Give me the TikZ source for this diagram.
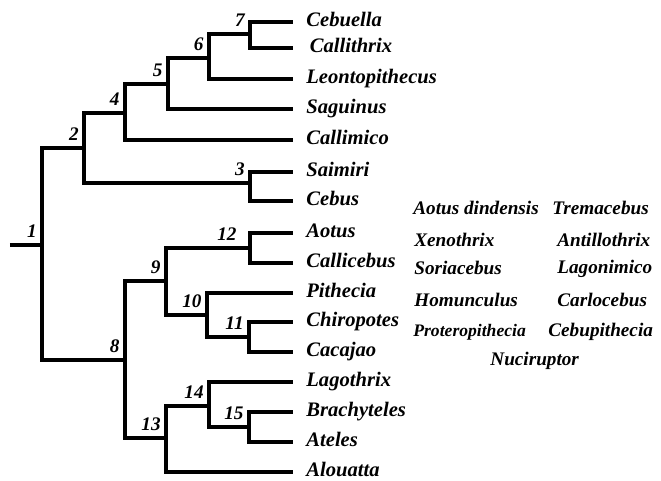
\documentclass[tikz,border=0pt]{standalone}
\usepackage{fontspec}
\setmainfont{Liberation Serif}
\tikzset{
  branch/.style={line width=1.6pt},
  taxon/.style={anchor=west, inner xsep=6.5pt, inner ysep=0pt, text height=7pt, text depth=2pt, font=\fontsize{10.3}{12}\selectfont\bfseries\itshape},
  fossil/.style={anchor=base west, inner sep=0pt, font=\fontsize{9.6}{11}\selectfont\bfseries\itshape},
  clade/.style={anchor=south east, inner sep=0pt, xshift=-2.5pt, yshift=3.5pt, font=\fontsize{9.6}{11}\selectfont\bfseries\itshape}
}

\begin{document}
\begin{tikzpicture}[x=0.5pt,y=-0.5pt]
	\useasboundingbox (0,0) rectangle (661,481);
	\coordinate (n0) at (10,245);
	\coordinate (n1) at (42,245);
	\coordinate (n2) at (84,148);
	\coordinate (n3) at (250,183);
	\coordinate (n4) at (125,113);
	\coordinate (n5) at (168,84);
	\coordinate (n6) at (209,58);
	\coordinate (n7) at (250,34);
	\coordinate (n8) at (125,360);
	\coordinate (n9) at (166,281);
	\coordinate (n10) at (207,315);
	\coordinate (n11) at (249,337);
	\coordinate (n12) at (250,248);
	\coordinate (n13) at (166,438);
	\coordinate (n14) at (209,406);
	\coordinate (n15) at (249,427);

	\node[taxon] (cebuella) at (293,22) {Cebuella};
	\node[taxon] (callithrix) at (293,48) {\,Callithrix};
	\node[taxon] (leonto) at (293,79) {Leontopithecus};
	\node[taxon] (saguinus) at (293,109) {Saguinus};
	\node[taxon] (callimico) at (293,140) {Callimico};
	\node[taxon] (saimiri) at (293,172) {Saimiri};
	\node[taxon] (cebus) at (293,201) {Cebus};
	\node[taxon] (aotus) at (293,233) {Aotus};
	\node[taxon] (callicebus) at (293,263) {Callicebus};
	\node[taxon] (pithecia) at (293,293) {Pithecia};
	\node[taxon] (chiropotes) at (293,322) {Chiropotes};
	\node[taxon] (cacajao) at (293,352) {Cacajao};
	\node[taxon] (lagothrix) at (293,382) {Lagothrix};
	\node[taxon] (brachyteles) at (293,412) {Brachyteles};
	\node[taxon] (ateles) at (293,442) {Ateles};
	\node[taxon] (alouatta) at (293,472) {Alouatta};

	\draw[branch] (n0) -- (n1);
	\draw[branch] (n1) |- (n2);
	\draw[branch] (n1) |- (n8);
	\draw[branch] (n2) |- (n4);
	\draw[branch] (n2) |- (n3);
	\draw[branch] (n4) |- (n5);
	\draw[branch] (n4) |- (callimico.west);
	\draw[branch] (n5) |- (n6);
	\draw[branch] (n5) |- (saguinus.west);
	\draw[branch] (n6) |- (n7);
	\draw[branch] (n6) |- (leonto.west);
	\draw[branch] (n7) |- (cebuella.west);
	\draw[branch] (n7) |- (callithrix.west);
	\draw[branch] (n3) |- (saimiri.west);
	\draw[branch] (n3) |- (cebus.west);
	\draw[branch] (n8) |- (n9);
	\draw[branch] (n8) |- (n13);
	\draw[branch] (n9) |- (n12);
	\draw[branch] (n9) |- (n10);
	\draw[branch] (n12) |- (aotus.west);
	\draw[branch] (n12) |- (callicebus.west);
	\draw[branch] (n10) |- (pithecia.west);
	\draw[branch] (n10) |- (n11);
	\draw[branch] (n11) |- (chiropotes.west);
	\draw[branch] (n11) |- (cacajao.west);
	\draw[branch] (n13) |- (n14);
	\draw[branch] (n13) |- (alouatta.west);
	\draw[branch] (n14) |- (lagothrix.west);
	\draw[branch] (n14) |- (n15);
	\draw[branch] (n15) |- (brachyteles.west);
	\draw[branch] (n15) |- (ateles.west);

	\node[clade] (l1) at (n1) {1};
	\node[clade] (l2) at (n2) {2};
	\node[clade] (l3) at (n3) {3};
	\node[clade] (l4) at (n4) {4};
	\node[clade] (l5) at (n5) {5};
	\node[clade] (l6) at (n6) {6};
	\node[clade] (l7) at (n7) {7};
	\node[clade] (l8) at (n8) {8};
	\node[clade] (l9) at (n9) {9};
	\node[clade] (l10) at (n10) {10};
	\node[clade] (l11) at (n11) {11};
	\node[clade, xshift=-4pt] (l12) at (n12) {12};
	\node[clade] (l13) at (n13) {13};
	\node[clade] (l14) at (n14) {14};
	\node[clade] (l15) at (n15) {15};

	\node[fossil] (dindensis) at (413,215) {Aotus dindensis};
	\node[fossil] (tremacebus) at (552,215) {Tremacebus};
	\node[fossil] (xenothrix) at (414,247) {Xenothrix};
	\node[fossil] (antillothrix) at (557,247) {Antillothrix};
	\node[fossil] (soriacebus) at (414,275) {Soriacebus};
	\node[fossil] (lagonimico) at (557,274) {Lagonimico};
	\node[fossil] (homunculus) at (414,307) {Homunculus};
	\node[fossil] (carlocebus) at (557,307) {Carlocebus};
	\node[fossil, font=\fontsize{8.8}{10}\selectfont\bfseries\itshape] (proteropithecia) at (413,337) {Proteropithecia};
	\node[fossil] (cebupithecia) at (548,337) {Cebupithecia};
	\node[fossil] (nuciruptor) at (490,366) {Nuciruptor};
\end{tikzpicture}
\end{document}
